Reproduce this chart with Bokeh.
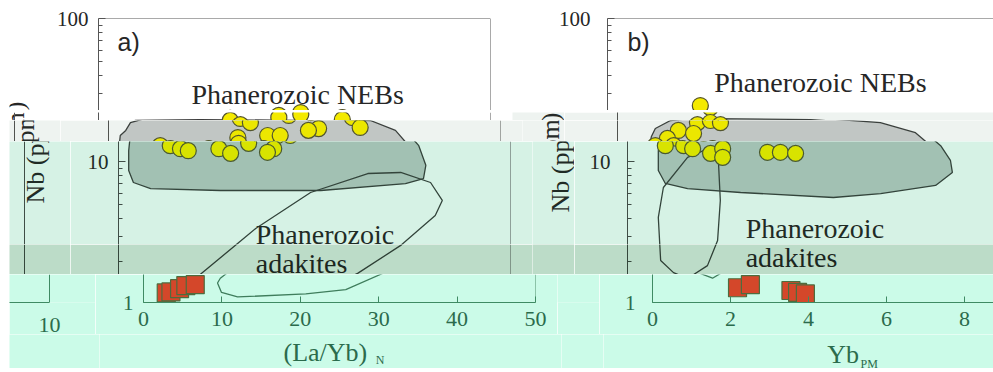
from bokeh.plotting import figure
from bokeh.layouts import column, row
from bokeh.models import FixedTicker, Span, Label, Range1d, BasicTickFormatter, Spacer, LinearAxis
from bokeh.core.properties import value
from bokeh.embed import file_html
from bokeh.resources import INLINE

# ---------------- data ----------------
# Panel a: Nb (ppm) vs (La/Yb)N
neb_a_x = [2.2, 2.8, 4.7, 13.0, 25.8, 33.4, 36.6, 38.3, 39.2, 38.9, 36.6, 25.8, 13.0, 4.1, 1.9, 1.3, 1.3, 1.5]
neb_a_y = [16.5, 18.7, 20.0, 20.3, 20.0, 19.35, 16.5, 12.9, 9.4, 7.6, 7.0, 6.27, 6.27, 6.47, 7.13, 8.65, 11.9, 15.2]
adk_a_x = [9.8, 17.5, 24.5, 31.8, 36.0, 39.8, 41.3, 40.4, 36.0, 30.5, 25.8, 20.7, 12.0, 9.95, 9.44]
adk_a_y = [1.52, 3.40, 6.07, 8.24, 8.38, 7.13, 5.34, 4.19, 2.59, 1.65, 1.25, 1.16, 1.10, 1.19, 1.40]
circ_a_x = [16.8, 18.1, 23.0, 25.8, 26.8, 31.1, 32.1, 16.5, 16.6, 20.3, 21.9, 19.8, 19.0, 6.6, 7.9, 8.9, 12.8, 14.3, 25.5]
circ_a_y = [20.0, 18.7, 21.0, 22.0, 17.0, 20.3, 17.3, 14.7, 13.4, 15.2, 15.2, 12.3, 11.6, 12.9, 12.3, 11.9, 12.3, 11.4, 16.5]
sq_a_x = [2.9, 3.5, 4.6, 5.4, 6.6]
sq_a_y = [1.18, 1.20, 1.27, 1.34, 1.36]

# Panel b: Nb (ppm) vs Yb_PM
neb_b_x = [0.97, 1.36, 2.38, 4.95, 6.74, 7.64, 8.03, 8.28, 8.33, 7.90, 6.49, 5.28, 2.90, 1.54, 0.97, 0.79, 0.79, 0.87]
neb_b_y = [17.0, 19.35, 20.6, 20.3, 18.7, 15.9, 12.9, 10.2, 8.38, 6.80, 5.97, 5.60, 6.07, 6.47, 7.02, 8.65, 11.9, 14.96]
adk_b_x = [2.13, 1.54, 0.92, 0.79, 0.85, 1.18, 1.54, 2.05, 2.31, 2.38, 2.33]
adk_b_y = [12.5, 10.7, 6.58, 4.06, 2.03, 1.67, 1.52, 1.87, 2.80, 5.34, 10.2]
circ_b_x = [2.38, 1.56, 2.05, 2.38, 2.64, 1.95, 1.28, 0.97, 1.44, 1.67, 2.13, 2.44, 2.44, 3.59, 3.92, 4.31]
circ_b_y = [24.6, 16.5, 18.7, 19.35, 18.7, 15.7, 14.5, 12.9, 12.9, 12.3, 11.4, 12.3, 10.7, 11.6, 11.6, 11.4]
sq_b_x = [2.18, 2.51, 3.55, 3.72, 3.92]
sq_b_y = [1.29, 1.36, 1.23, 1.19, 1.16]

y_ticks = [1, 10, 100]
y_minor = [2, 3, 4, 5, 6, 7, 8, 9, 20, 30, 40, 50, 60, 70, 80, 90]
xa_ticks = [0, 10, 20, 30, 40, 50]
xb_ticks = [0, 2, 4, 6, 8, 10]
y_title = "Nb (ppm)"
xa_title, xa_sub = "(La/Yb)", "N"
xb_title, xb_sub = "Yb", "PM"
field_neb = "Phanerozoic NEBs"
field_adk = ["Phanerozoic", "adakites"]

# ---------------- layout / style ----------------
FRAME_TOP, FRAME_BOTTOM, DECADE = 18, 304, 143.0
PX_A, PX_B = 7.84, 39.0
SERIF = "Liberation Serif"
LEFT_PAD = 9
B_RIGHT_EDGE = 997      # true page x of panel b's right frame edge
PAGE_W = 993


def val(page_y):
    return 10 ** ((FRAME_BOTTOM - page_y) / DECADE)


WHITE = dict(bg="#ffffff", text="#262626", axis="#555555", edge="#3c3c3c", neb="#c8c9c9",
             circ="#f4ea00", circ_line="#54532c", sq="#d84a2a", sq_line="#5a4a3a")
BAND1 = dict(bg="#eef3f0", text="#262a28", axis="#50524f", edge="#3b403d", neb="#c1c6c4",
             circ="#ece700", circ_line="#52552e", sq="#d84a2a", sq_line="#5a4a3a")
BAND2 = dict(bg="#d6f2e5", text="#1f2b25", axis="#3f4d46", edge="#33443b", neb="#a2c1b3",
             circ="#d8e300", circ_line="#4a5a30", sq="#d4472a", sq_line="#50603f")
BAND3 = dict(bg="#bcdcc8", text="#1b2620", axis="#34463b", edge="#2e3f35", neb="#91b2a1",
             circ="#c4d600", circ_line="#43552e", sq="#d4472a", sq_line="#50603f")
BOTTOM = dict(bg="#cbfbe8", text="#2b6b4c", axis="#3f8a63", edge="#3f7d5c", neb="#a6d2be",
              circ="#d8f000", circ_line="#4a7040", sq="#d4472a", sq_line="#4e6c3e")

# (page y0, page y1, shift a, shift b, palette a, palette b, kind)
rows_spec = [
    (0, 110, 0, 0, WHITE, WHITE, "top"),
    (110, 120, 0, 10, WHITE, BAND1, "mid"),
    (120, 141, 10, 10, BAND1, BAND1, "mid"),
    (141, 244, 20, 20, BAND2, BAND2, "mid"),
    (244, 274, 20, 20, BAND3, BAND3, "mid"),
    (274, 334, 45, 45, BOTTOM, BOTTOM, "axis"),
    (334, 368, 49, 49, BOTTOM, BOTTOM, "title"),
]


def base_fig(w, h, xr, yr, ylog, pal, bl=0, br=0, bt=0, bb=0, xloc=None, yloc=None):
    p = figure(width=w, height=h, x_range=xr, y_range=yr,
               y_axis_type="log" if ylog else "linear",
               output_backend="svg", toolbar_location=None,
               x_axis_location=xloc, y_axis_location=yloc,
               min_border_left=bl, min_border_right=br,
               min_border_top=bt, min_border_bottom=bb)
    p.background_fill_color = pal["bg"]
    p.border_fill_color = pal["bg"]
    p.outline_line_color = None
    p.grid.grid_line_color = None
    return p


def frame_rows(y0, y1, kind):
    if kind == "title":
        return y0, y1
    return max(y0, FRAME_TOP), min(y1, FRAME_BOTTOM)


def label_strip(panel, y0, y1, sa, sb, pal, kind):
    # row members share the panel's frame top/bottom, so use the same y range
    h = y1 - y0
    if panel == "a":
        lo, hi = LEFT_PAD, 50 + sa
        xr = Range1d(LEFT_PAD - sa, 50)
        lab_x, lab_y, lab_h = 15, 152, 112
    else:
        lo, hi = 512 + sa, 554 + sb
        xr = Range1d(512 + sa - sb, 554)
        lab_x, lab_y, lab_h = 540, 161, 110
    ft, fb = frame_rows(y0, y1, kind)
    ylog = kind != "title"
    yr = Range1d(val(fb), val(ft)) if ylog else Range1d(y1, y0)
    p = base_fig(hi - lo, h, xr, yr, ylog, pal, bt=ft - y0, bb=y1 - fb)
    if ylog and y0 < lab_y + lab_h / 2 and y1 > lab_y - lab_h / 2:
        p.text(x=[lab_x], y=[val(lab_y)], text=[y_title], angle=1.5708,
               text_align="center", text_baseline="middle", text_font=value(SERIF),
               text_font_size=value("26px"), text_color=pal["text"])
    # panel b's right frame edge, wrapped round to the left of the strip
    if panel == "a" and ylog and sb > 0:
        wx = B_RIGHT_EDGE - PAGE_W + sb - sa
        p.segment(x0=[wx], y0=[val(fb)], x1=[wx], y1=[val(ft)],
                  line_color=pal["axis"], line_width=1)
        if kind == "axis":
            wax = LinearAxis(ticker=FixedTicker(ticks=[wx], minor_ticks=[]),
                             bounds=(LEFT_PAD - sa, wx),
                             major_label_overrides={wx: str(xb_ticks[-1])},
                             axis_line_color=pal["axis"], major_tick_line_color=None,
                             minor_tick_line_color=None,
                             major_label_text_font=SERIF, major_label_text_font_size="22px",
                             major_label_text_color=pal["text"], major_label_standoff=9)
            p.add_layout(wax, "below")
    return p


def panel_fig(panel, y0, y1, sa, sb, pal, kind):
    h = y1 - y0
    if panel == "a":
        w, bl, br, xr = 462, 48, 22, Range1d(0, 50)
        ticks = xa_ticks
    else:
        w, bl, br, xr = 439 - sb, 53, 0, Range1d(0, (386 - sb) / PX_B)
        ticks = xb_ticks

    if kind == "title":
        # frame spans the whole strip; x range from the strip's true page extent
        if panel == "a":
            xr = Range1d((50 - 98) / PX_A, (512 - 98) / PX_A)
        else:
            xr = Range1d((554 - 607) / PX_B, (554 + w - 607) / PX_B)
        p = base_fig(w, h, xr, Range1d(y1, y0), False, pal)
        if panel == "a":
            items = [(17.35, 352, xa_title, "26px"), (29.1, 359, xa_sub, "12px")]
        else:
            items = [(4.38, 354, xb_title, "26px"), (5.23, 363, xb_sub, "12px")]
        for (tx, ty, tt, fs) in items:
            p.text(x=[tx], y=[ty], text=[tt], text_baseline="middle",
                   text_font=value(SERIF), text_font_size=value(fs), text_color=pal["text"])
        return p

    ft, fb = frame_rows(y0, y1, kind)
    p = base_fig(w, h, xr, Range1d(val(fb), val(ft)), True, pal, bl=bl, br=br,
                 bt=ft - y0, bb=y1 - fb,
                 xloc="below" if kind == "axis" else None, yloc="left")

    ax = p.yaxis[0]
    ax.ticker = FixedTicker(ticks=y_ticks, minor_ticks=y_minor)
    ax.formatter = BasicTickFormatter()
    ax.major_tick_in, ax.major_tick_out = 7, 0
    ax.minor_tick_in, ax.minor_tick_out = 4, 0
    for attr in ("axis_line_color", "major_tick_line_color", "minor_tick_line_color"):
        setattr(ax, attr, pal["axis"])
    ax.major_label_text_font = SERIF
    ax.major_label_text_font_size = "21px"
    ax.major_label_text_color = pal["text"]
    ax.major_label_standoff = 10 if panel == "a" else 17

    if kind == "axis":
        xa = p.xaxis[0]
        xa.ticker = FixedTicker(ticks=ticks, minor_ticks=[])
        xa.major_tick_in, xa.major_tick_out = 6, 0
        xa.minor_tick_line_color = None
        xa.axis_line_color = pal["axis"]
        xa.major_tick_line_color = pal["axis"]
        xa.major_label_text_font = SERIF
        xa.major_label_text_font_size = "22px"
        xa.major_label_text_color = pal["text"]
        xa.major_label_standoff = 9

    # frame edges
    if kind == "top":
        p.add_layout(Span(location=100, dimension="width", line_color=pal["axis"], line_width=1))
    if panel == "a":
        p.add_layout(Span(location=50, dimension="height", line_color=pal["axis"], line_width=1))

    if panel == "a":
        nx, ny, kx, ky, cx, cy, sx, sy = neb_a_x, neb_a_y, adk_a_x, adk_a_y, circ_a_x, circ_a_y, sq_a_x, sq_a_y
    else:
        nx, ny, kx, ky, cx, cy, sx, sy = neb_b_x, neb_b_y, adk_b_x, adk_b_y, circ_b_x, circ_b_y, sq_b_x, sq_b_y

    p.patch(nx, ny, fill_color=pal["neb"], line_color=pal["edge"], line_width=1.3)
    p.patch(kx, ky, fill_color=None, line_color=pal["edge"], line_width=1.3)
    p.scatter(cx, cy, marker="circle", size=16, fill_color=pal["circ"],
              line_color=pal["circ_line"], line_width=1.2)
    p.scatter(sx, sy, marker="square", size=18, fill_color=pal["sq"],
              line_color=pal["sq_line"], line_width=1.2)

    # texts inside the frame (y = text middle, page px)
    if panel == "a":
        tl = (2.42, 41, "a)")
        neb_t = (25.4, 93.5)
        adk_t = (17.5, 233.5, 262.5)
    else:
        tl = (0.51, 41, "b)")
        neb_t = (5.46, 81.5)
        adk_t = (3.03, 227.5, 256.5)
    if kind == "top":
        p.add_layout(Label(x=tl[0], y=val(tl[1]), text=tl[2], text_font="Liberation Sans",
                           text_baseline="middle", text_font_size="25px", text_color=pal["text"]))
    if y0 < neb_t[1] + 14 and y1 > neb_t[1] - 14:
        p.add_layout(Label(x=neb_t[0], y=val(neb_t[1]), text=field_neb, text_align="center",
                           text_baseline="middle", text_font=SERIF, text_font_size="28px",
                           text_color=pal["text"]))
    for txt, mid in ((field_adk[0], adk_t[1]), (field_adk[1], adk_t[2])):
        if y0 < mid + 14 and y1 > mid - 14:
            p.add_layout(Label(x=adk_t[0], y=val(mid), text=txt, text_font=SERIF,
                               text_baseline="middle", text_font_size="28px",
                               text_color=pal["text"]))
    return p


rows = []
for (y0, y1, sa, sb, pa, pb, kind) in rows_spec:
    figs = [Spacer(width=LEFT_PAD, height=y1 - y0),
            label_strip("a", y0, y1, sa, sb, pa, kind),
            panel_fig("a", y0, y1, sa, sb, pa, kind),
            label_strip("b", y0, y1, sa, sb, pb, kind),
            panel_fig("b", y0, y1, sa, sb, pb, kind)]
    rows.append(row(*figs, spacing=0))

layout = column(*rows, spacing=0)

open("out.html", "w").write(file_html(layout, INLINE))
